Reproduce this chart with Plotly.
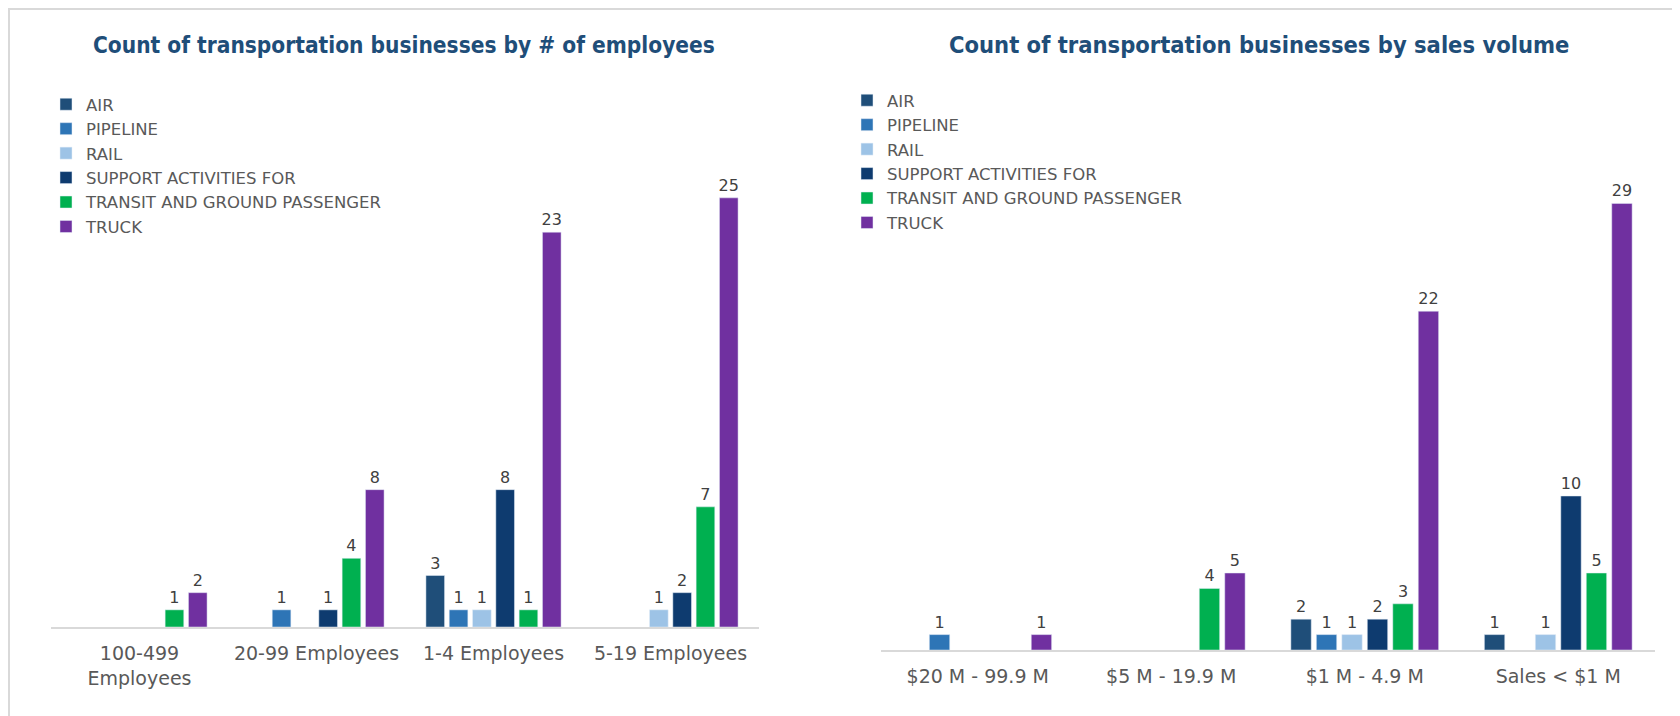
import plotly.graph_objects as go

# data
industries = ["AIR", "PIPELINE", "RAIL", "SUPPORT ACTIVITIES FOR",
              "TRANSIT AND GROUND PASSENGER", "TRUCK"]
colors = ["#1F4E79", "#2E75B6", "#9DC3E6", "#0E3B6F", "#00B050", "#7030A0"]

emp_categories = ["100-499<br>Employees", "20-99 Employees", "1-4 Employees", "5-19 Employees"]
emp_air = [None, None, 3, None]
emp_pipeline = [None, 1, 1, None]
emp_rail = [None, None, 1, 1]
emp_support = [None, 1, 8, 2]
emp_transit = [1, 4, 1, 7]
emp_truck = [2, 8, 23, 25]

sales_categories = ["$20 M - 99.9 M", "$5 M - 19.9 M", "$1 M - 4.9 M", "Sales < $1 M"]
sales_air = [None, None, 2, 1]
sales_pipeline = [1, None, 1, None]
sales_rail = [None, None, 1, 1]
sales_support = [None, None, 2, 10]
sales_transit = [None, 4, 3, 5]
sales_truck = [1, 5, 22, 29]

emp_series = [emp_air, emp_pipeline, emp_rail, emp_support, emp_transit, emp_truck]
sales_series = [sales_air, sales_pipeline, sales_rail, sales_support, sales_transit, sales_truck]

FONT = "DejaVu Sans, sans-serif"
TITLE_FONT = "DejaVu Sans Condensed, DejaVu Sans, sans-serif"
title_color = "#1F4E79"
text_grey = "#595959"
axis_grey = "#D9D9D9"

# the page body has an 8px margin, so the figure is a bit smaller than the window
PAGE_MARGIN = 8
W, H = 1680 - PAGE_MARGIN, 716 - PAGE_MARGIN


def px(x):
    # page pixel -> paper x
    return (x - PAGE_MARGIN) / W


def py(y):
    # page pixel -> paper y
    return 1 - (y - PAGE_MARGIN) / H


def labels(vals):
    return ["" if v is None else str(v) for v in vals]


fig = go.Figure()

for name, color, vals in zip(industries, colors, emp_series):
    fig.add_trace(go.Bar(
        x=emp_categories, y=vals, name=name, marker=dict(color=color),
        text=labels(vals), textposition="outside", cliponaxis=False, constraintext="none",
        textfont=dict(family=FONT, size=16, color="#404040"),
        xaxis="x", yaxis="y", legend="legend", hoverinfo="x+y+name"))

for name, color, vals in zip(industries, colors, sales_series):
    fig.add_trace(go.Bar(
        x=sales_categories, y=vals, name=name, marker=dict(color=color),
        text=labels(vals), textposition="outside", cliponaxis=False, constraintext="none",
        textfont=dict(family=FONT, size=16, color="#404040"),
        xaxis="x2", yaxis="y2", legend="legend2", hoverinfo="x+y+name"))

axis_common = dict(showline=True, linecolor=axis_grey, linewidth=2, showgrid=False,
                   zeroline=False, ticks="", ticklabelstandoff=8, tickangle=0,
                   automargin=False,
                   tickfont=dict(family=FONT, size=19, color=text_grey))
yaxis_common = dict(showline=False, showgrid=False, zeroline=False,
                    showticklabels=False, ticks="", automargin=False)

legend_common = dict(font=dict(family=FONT, size=16.5, color=text_grey),
                     bgcolor="rgba(0,0,0,0)", xanchor="left", yanchor="top",
                     itemclick=False, itemdoubleclick=False)

fig.update_layout(
    width=W, height=H,
    margin=dict(l=0, r=0, t=0, b=0),
    paper_bgcolor="white", plot_bgcolor="white",
    barmode="group", bargap=0.21, bargroupgap=0.2,
    xaxis=dict(domain=[px(51), px(759)], anchor="y", **axis_common),
    yaxis=dict(domain=[py(627), py(112)], range=[0, 30], anchor="x", **yaxis_common),
    xaxis2=dict(domain=[px(881), px(1655)], anchor="y2", **axis_common),
    yaxis2=dict(domain=[py(650), py(111)], range=[0, 35], anchor="x2", **yaxis_common),
    legend=dict(x=px(46), y=py(87), **legend_common),
    legend2=dict(x=px(847), y=py(83), **legend_common),
    showlegend=True,
)

fig.add_annotation(text="<b>Count of transportation businesses by # of employees</b>",
                   xref="paper", yref="paper", x=px(404), y=py(45),
                   xanchor="center", yanchor="middle", showarrow=False,
                   font=dict(family=TITLE_FONT, size=22.5, color=title_color))
fig.add_annotation(text="<b>Count of transportation businesses by sales volume</b>",
                   xref="paper", yref="paper", x=px(1259), y=py(45),
                   xanchor="center", yanchor="middle", showarrow=False,
                   font=dict(family=TITLE_FONT, size=23.5, color=title_color))

# light frame around the picture
fig.add_shape(type="rect", xref="paper", yref="paper",
              x0=px(9), x1=px(1679), y0=-0.01, y1=py(9),
              line=dict(color=axis_grey, width=2))

fig.write_html("out.html")
